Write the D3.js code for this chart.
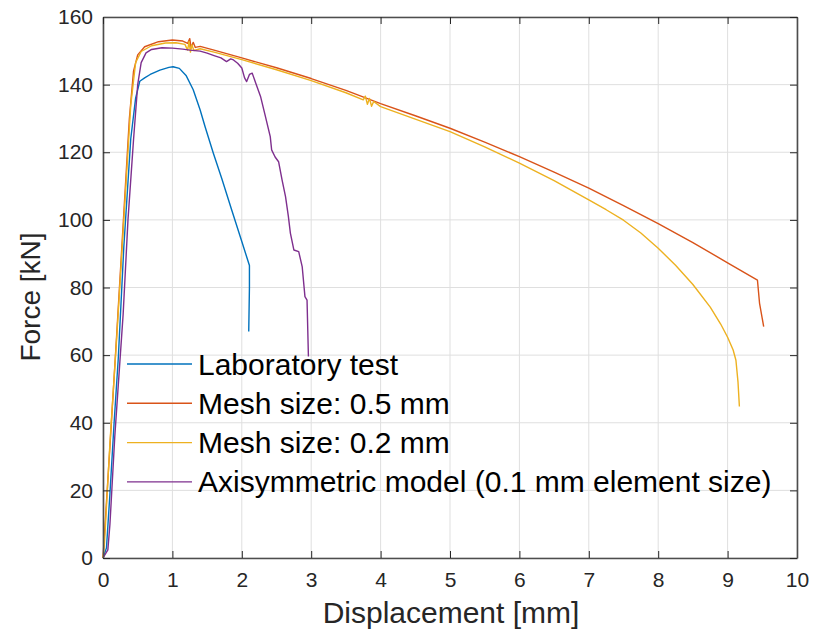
<!DOCTYPE html>
<html>
<head>
<meta charset="utf-8">
<script src="https://cdn.jsdelivr.net/npm/d3@7"></script>
<style>
  html, body { margin: 0; padding: 0; background: #fff; }
  svg { display: block; font-family: "Liberation Sans", Arial, sans-serif; }
</style>
</head>
<body>
<svg id="chart" width="815" height="640"></svg>
<script>
// Force–displacement curves: [displacement mm, force kN]
const labTest = [
  [0.00, 0], [0.05, 3], [0.10, 19], [0.16, 40], [0.22, 59], [0.30, 92], [0.40, 124],
  [0.47, 136], [0.53, 141], [0.60, 142], [0.68, 143], [0.82, 144.3], [0.95, 145.1],
  [1.01, 145.3], [1.10, 144.8], [1.20, 142.6], [1.30, 138.5], [1.40, 132.5],
  [1.47, 127.6], [1.59, 119.7], [1.71, 112.3], [1.85, 103.2], [2.00, 93.6],
  [2.11, 86.5], [2.11, 80], [2.10, 67.0]
];
const mesh05 = [
  [0.00, 0], [0.10, 33], [0.20, 67], [0.30, 102], [0.38, 130], [0.44, 144], [0.50, 148.8],
  [0.60, 151.2], [0.80, 152.7], [1.00, 153.2], [1.15, 152.9], [1.22, 152.2],
  [1.25, 153.6], [1.27, 150.8], [1.30, 152.5], [1.33, 151.0], [1.40, 151.3],
  [1.60, 150.2], [2.00, 147.9], [2.50, 145.0], [3.00, 141.8], [3.50, 138.3],
  [4.00, 134.4], [4.50, 130.8], [5.00, 127.1], [5.50, 123.0], [6.00, 118.7],
  [6.50, 114.1], [7.00, 109.4], [7.50, 104.2], [8.00, 98.9], [8.50, 93.3],
  [9.00, 87.3], [9.43, 82.2], [9.46, 75.4], [9.52, 68.4]
];
const mesh02 = [
  [0.00, 0], [0.02, 4], [0.10, 34], [0.20, 66], [0.30, 100], [0.40, 134], [0.47, 146.5],
  [0.55, 149.8], [0.70, 151.5], [0.90, 152.3], [1.05, 152.4], [1.18, 151.9],
  [1.22, 150.2], [1.24, 152.8], [1.26, 149.6], [1.28, 151.8], [1.31, 150.1],
  [1.40, 150.6], [1.60, 149.6], [2.00, 147.4], [2.50, 144.4], [3.00, 141.2],
  [3.50, 137.6], [3.75, 135.5], [3.78, 136.6], [3.81, 134.2], [3.84, 135.9],
  [3.87, 133.6], [3.90, 135.0], [4.00, 133.5], [4.50, 129.8], [5.00, 126.1],
  [5.50, 121.6], [6.00, 116.8], [6.50, 111.6], [7.00, 105.9], [7.25, 103.0],
  [7.50, 99.9], [7.75, 96.1], [8.00, 91.6], [8.25, 86.6], [8.50, 80.9],
  [8.75, 74.2], [8.90, 69.2], [9.00, 65.3], [9.08, 61.5], [9.12, 58.5],
  [9.15, 52.0], [9.17, 44.8]
];
const axisym = [
  [0.00, 0], [0.07, 2.4], [0.10, 10], [0.17, 36], [0.245, 58.6], [0.29, 72], [0.36, 100],
  [0.44, 123.7], [0.50, 140], [0.55, 146.5], [0.62, 149.4], [0.70, 150.4],
  [0.85, 150.9], [1.00, 150.8], [1.15, 150.5], [1.25, 150.2], [1.40, 149.9],
  [1.50, 149.3], [1.60, 148.6], [1.70, 147.9], [1.78, 146.8], [1.84, 147.6],
  [1.88, 147.3], [1.94, 146.3], [2.00, 144.9], [2.04, 142.0], [2.07, 140.9],
  [2.11, 143.0], [2.15, 143.4], [2.20, 140.5], [2.27, 136.5], [2.34, 130.6],
  [2.41, 124.6], [2.43, 120.7], [2.48, 118.6], [2.53, 117.2], [2.58, 111.8],
  [2.63, 106.9], [2.67, 101.2], [2.70, 96.1], [2.75, 91.1], [2.82, 90.6],
  [2.87, 86.2], [2.91, 77.3], [2.94, 76.3], [2.96, 59.6]
];

const seriesNames = [
  "Laboratory test",
  "Mesh size: 0.5 mm",
  "Mesh size: 0.2 mm",
  "Axisymmetric model (0.1 mm element size)"
];
const seriesColors = ["#0072BD", "#D95319", "#EDB120", "#7E2F8E"];
const xTicks = [0, 1, 2, 3, 4, 5, 6, 7, 8, 9, 10];
const yTicks = [0, 20, 40, 60, 80, 100, 120, 140, 160];

const series = [labTest, mesh05, mesh02, axisym];

const svg = d3.select("#chart");
const margin = { left: 103, right: 18, top: 17, bottom: 82 };
const W = 815, H = 640;
const x = d3.scaleLinear().domain([0, 10]).range([margin.left, W - margin.right]);
const y = d3.scaleLinear().domain([0, 160]).range([H - margin.bottom, margin.top]);

const axisColor = "#262626";
const gridColor = "#dfdfdf";

// grid
const grid = svg.append("g");
grid.selectAll("line.gx").data(xTicks).join("line")
  .attr("x1", d => x(d)).attr("x2", d => x(d))
  .attr("y1", y(0)).attr("y2", y(160))
  .attr("stroke", gridColor).attr("stroke-width", 1);
grid.selectAll("line.gy").data(yTicks).join("line")
  .attr("y1", d => y(d)).attr("y2", d => y(d))
  .attr("x1", x(0)).attr("x2", x(10))
  .attr("stroke", gridColor).attr("stroke-width", 1);

// curves
const line = d3.line().x(d => x(d[0])).y(d => y(d[1]));
svg.append("g").selectAll("path").data(series).join("path")
  .attr("d", line)
  .attr("fill", "none")
  .attr("stroke", (d, i) => seriesColors[i])
  .attr("stroke-width", 1.4)
  .attr("stroke-linejoin", "round");

// axes with inward ticks on all four sides
const tickLen = 7;
function styleAxis(g) {
  g.select(".domain").attr("stroke", "#4d4d4d").attr("stroke-width", 1.6);
  g.selectAll(".tick line").attr("stroke", axisColor).attr("stroke-width", 1);
  g.selectAll("text").attr("fill", "#262626").attr("font-size", 21)
    .attr("font-family", "'Liberation Sans', Arial, sans-serif");
}
svg.append("g").attr("transform", `translate(0,${y(0)})`)
  .call(d3.axisBottom(x).tickValues(xTicks).tickSize(-tickLen).tickSizeOuter(0).tickPadding(14).tickFormat(d3.format("d")))
  .call(styleAxis);
svg.append("g").attr("transform", `translate(${x(0)},0)`)
  .call(d3.axisLeft(y).tickValues(yTicks).tickSize(-tickLen).tickSizeOuter(0).tickPadding(10).tickFormat(d3.format("d")))
  .call(styleAxis);
svg.append("g").attr("transform", `translate(0,${y(160)})`)
  .call(d3.axisTop(x).tickValues(xTicks).tickSize(-tickLen).tickSizeOuter(0).tickFormat(""))
  .call(styleAxis);
svg.append("g").attr("transform", `translate(${x(10)},0)`)
  .call(d3.axisRight(y).tickValues(yTicks).tickSize(-tickLen).tickSizeOuter(0).tickFormat(""))
  .call(styleAxis);

// axis titles
svg.append("text")
  .attr("x", 451).attr("y", 623)
  .attr("text-anchor", "middle").attr("font-size", 30).attr("fill", "#262626")
  .text("Displacement [mm]");
svg.append("text")
  .attr("transform", `translate(40,297) rotate(-90)`)
  .attr("text-anchor", "middle").attr("font-size", 28).attr("fill", "#262626")
  .text("Force [kN]");

// legend
const legend = svg.append("g").attr("transform", "translate(127,364)");
const rows = legend.selectAll("g").data(seriesNames).join("g")
  .attr("transform", (d, i) => `translate(0,${i * 39.3})`);
rows.append("line").attr("x1", 0).attr("x2", 65).attr("y1", 0).attr("y2", 0)
  .attr("stroke", (d, i) => seriesColors[i]).attr("stroke-width", 1.4);
rows.append("text").attr("x", 71).attr("y", 10.5)
  .attr("font-size", 30).attr("fill", "#000").text(d => d);
</script>
</body>
</html>
